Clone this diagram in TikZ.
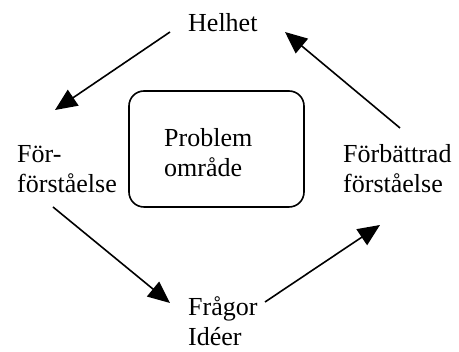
\documentclass[tikz,border=0pt]{standalone}
\usepackage{fontspec}
\setmainfont{Liberation Serif}
\usetikzlibrary{arrows.meta}
\begin{document}
\begin{tikzpicture}[x=1pt,y=-1pt,
  lbl/.style={inner sep=0pt, align=left, anchor=base west,
    font=\fontsize{26}{30}\selectfont},
  flow/.style={line width=1.6pt, -{Triangle[length=22pt,width=19pt]}},
  area/.style={draw, line width=1.6pt, rounded corners=15pt, inner sep=0pt}]
\useasboundingbox (0,0) rectangle (459,352);

% the problem area in the middle
\node[area, minimum width=175pt, minimum height=116pt] (omrade) at (216.5,149) {};
\node[lbl] (problem) at (164,177) {Problem\\område};

% the four stages of the circle (anchored at the last line's baseline)
\node[lbl] (helhet) at (188,32) {Helhet};
\node[lbl] (forf) at (17,193) {För-\\förståelse};
\node[lbl] (fragor) at (188,346) {Frågor\\Idéer};
\node[lbl] (forb) at (343,193) {Förbättrad\\förståelse};

% arrow ends
\coordinate (h1) at (170,32);
\coordinate (f1) at (55,110);
\coordinate (f2) at (53,207);
\coordinate (q1) at (170,303);
\coordinate (q2) at (265,302);
\coordinate (b1) at (380,225);
\coordinate (b2) at (400,128);
\coordinate (h2) at (285,32);

\draw[flow] (h1) -- (f1);
\draw[flow] (f2) -- (q1);
\draw[flow] (q2) -- (b1);
\draw[flow] (b2) -- (h2);
\end{tikzpicture}
\end{document}
